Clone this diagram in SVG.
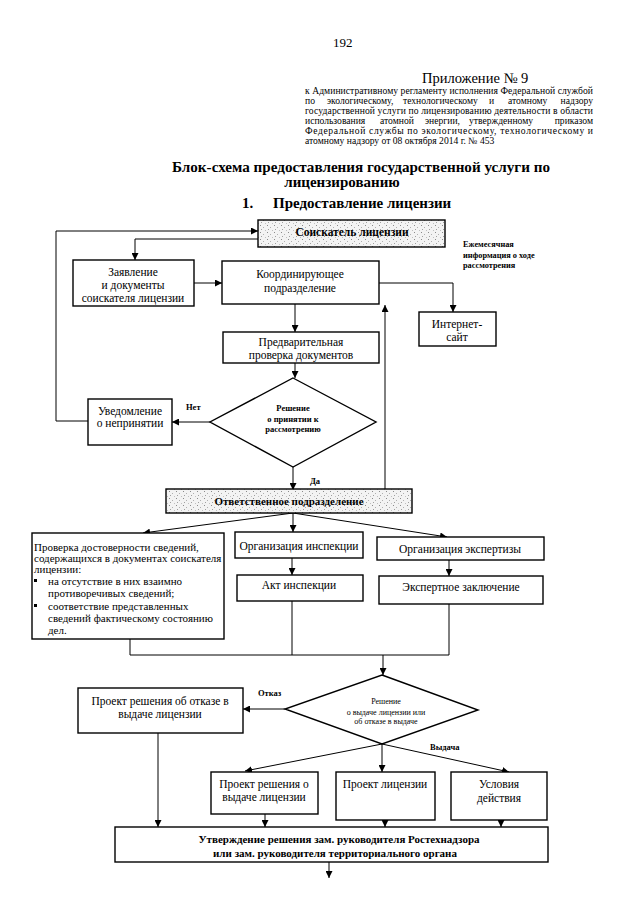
<svg xmlns="http://www.w3.org/2000/svg" width="640" height="905" viewBox="0 0 640 905">
<defs>
<marker id="ar" viewBox="0 0 10 10" refX="10" refY="5" markerWidth="7" markerHeight="7" markerUnits="userSpaceOnUse" orient="auto">
<path d="M0,0 L10,5 L0,10 z" fill="#000"/>
</marker>
<pattern id="stip" width="7" height="7" patternUnits="userSpaceOnUse">
<rect width="7" height="7" fill="#f3f3f3"/>
<rect x="1" y="1" width="1" height="1" fill="#8a8a8a"/>
<rect x="4" y="3" width="1" height="1" fill="#b0b0b0"/>
<rect x="2" y="5" width="1" height="1" fill="#a0a0a0"/>
<rect x="6" y="6" width="1" height="1" fill="#c0c0c0"/>
</pattern>
</defs>
<style>
.t{font-family:"Liberation Serif","Times New Roman",serif;fill:#000}
.b{font-weight:bold}
.box{fill:#fff;stroke:#000;stroke-width:1.4}
.sh{fill:url(#stip);stroke:#000;stroke-width:1.4}
.c{fill:none;stroke:#000;stroke-width:1}
.ca{fill:none;stroke:#000;stroke-width:1;marker-end:url(#ar)}
.m{text-anchor:middle}
</style>
<rect width="640" height="905" fill="#fff"/>

<g id="header">
<text class="t" x="333" y="47" font-size="13">192</text>
<text class="t" x="422" y="83" font-size="14.5">Приложение № 9</text>
<text class="t" x="305" y="94" font-size="9.6" textLength="288" lengthAdjust="spacing">к Административному регламенту исполнения Федеральной службой</text>
<text class="t" x="305" y="104" font-size="9.6">по</text>
<text class="t" x="327" y="104" font-size="9.6">экологическому,</text>
<text class="t" x="403" y="104" font-size="9.6">технологическому</text>
<text class="t" x="489" y="104" font-size="9.6">и</text>
<text class="t" x="508" y="104" font-size="9.6">атомному</text>
<text class="t" x="593" y="104" font-size="9.6" text-anchor="end">надзору</text>
<text class="t" x="305" y="114" font-size="9.6" textLength="288" lengthAdjust="spacing">государственной услуги по лицензированию деятельности в области</text>
<text class="t" x="305" y="124" font-size="9.6">использования</text>
<text class="t" x="380" y="124" font-size="9.6">атомной</text>
<text class="t" x="425" y="124" font-size="9.6">энергии,</text>
<text class="t" x="469" y="124" font-size="9.6">утвержденному</text>
<text class="t" x="593" y="124" font-size="9.6" text-anchor="end">приказом</text>
<text class="t" x="305" y="134" font-size="9.6" textLength="288" lengthAdjust="spacing">Федеральной службы по экологическому, технологическому и</text>
<text class="t" x="305" y="144" font-size="9.6">атомному надзору от 08 октября 2014 г.  № 453</text>
<text class="t b" x="172" y="172" font-size="15" textLength="378" lengthAdjust="spacingAndGlyphs">Блок-схема предоставления государственной услуги по</text>
<text class="t b m" x="342" y="187" font-size="15">лицензированию</text>
<text class="t b" x="242" y="208" font-size="15">1.</text>
<text class="t b" x="273" y="208" font-size="15">Предоставление лицензии</text>
</g>

<g id="connectors">
<polyline class="ca" points="88,421 56,421 56,231 258,231"/>
<polyline class="ca" points="258,239 135,239 135,260"/>
<line class="ca" x1="194" y1="283" x2="222" y2="283"/>
<polyline class="ca" points="379,283 453,283 453,312"/>
<line class="ca" x1="295" y1="304" x2="295" y2="332"/>
<line class="ca" x1="295" y1="363" x2="295" y2="378"/>
<line class="ca" x1="210" y1="422" x2="172" y2="422"/>
<line class="ca" x1="293" y1="467" x2="293" y2="490"/>
<line class="ca" x1="385" y1="490" x2="385" y2="305"/>
<line class="ca" x1="293" y1="513" x2="143" y2="533"/>
<line class="ca" x1="293" y1="513" x2="293" y2="532"/>
<line class="ca" x1="293" y1="513" x2="447" y2="537"/>
<line class="ca" x1="292" y1="558" x2="292" y2="575"/>
<line class="ca" x1="449" y1="560" x2="449" y2="576"/>
<polyline class="c" points="130,639 130,655 449,655 449,604"/>
<line class="c" x1="292" y1="601" x2="292" y2="655"/>
<line class="ca" x1="383" y1="655" x2="383" y2="675"/>
<line class="ca" x1="285" y1="709" x2="243" y2="709"/>
<line class="ca" x1="158" y1="733" x2="158" y2="827"/>
<line class="ca" x1="382" y1="744" x2="245" y2="771"/>
<line class="ca" x1="382" y1="744" x2="382" y2="772"/>
<line class="ca" x1="382" y1="744" x2="509" y2="772"/>
<line class="ca" x1="265" y1="814" x2="265" y2="827"/>
<line class="ca" x1="385" y1="820" x2="385" y2="827"/>
<line class="ca" x1="501" y1="820" x2="501" y2="827"/>
<line class="ca" x1="329" y1="862" x2="329" y2="878"/>
</g>

<g id="labels">
<text class="t b" x="463" y="247" font-size="8.3">Ежемесячная</text>
<text class="t b" x="463" y="258" font-size="8.3">информация о ходе</text>
<text class="t b" x="463" y="268" font-size="8.3">рассмотрения</text>
<text class="t b" x="186" y="410" font-size="8.5">Нет</text>
<text class="t b" x="310" y="484" font-size="8.5">Да</text>
<text class="t b" x="258" y="696" font-size="8.5">Отказ</text>
<text class="t b" x="430" y="750" font-size="8.5">Выдача</text>
</g>

<g id="n-soiskatel">
<rect class="sh" x="258" y="220" width="187" height="27"/>
<text class="t b m" x="352" y="236" font-size="11.5">Соискатель лицензии</text>
</g>
<g id="n-zayavlenie">
<rect class="box" x="73" y="260" width="121" height="46"/>
<text class="t m" x="133" y="276" font-size="11.5">Заявление</text>
<text class="t m" x="133" y="289" font-size="11.5">и документы</text>
<text class="t m" x="133" y="302" font-size="11.5">соискателя лицензии</text>
</g>
<g id="n-koord">
<rect class="box" x="222" y="261" width="157" height="43"/>
<text class="t m" x="300" y="278" font-size="11.5">Координирующее</text>
<text class="t m" x="300" y="292" font-size="11.5">подразделение</text>
</g>
<g id="n-internet">
<rect class="box" x="419" y="312" width="77" height="34"/>
<text class="t m" x="457" y="328" font-size="11.5">Интернет-</text>
<text class="t m" x="457" y="341" font-size="11.5">сайт</text>
</g>
<g id="n-predv">
<rect class="box" x="223" y="332" width="156" height="31"/>
<text class="t m" x="301" y="346" font-size="11.5">Предварительная</text>
<text class="t m" x="301" y="359" font-size="11.5">проверка документов</text>
</g>
<g id="n-reshenie1">
<polygon class="box" points="293,378 376,422 293,467 210,422"/>
<text class="t b m" x="293" y="411" font-size="8.5">Решение</text>
<text class="t b m" x="293" y="422" font-size="8.5">о принятии к</text>
<text class="t b m" x="293" y="432" font-size="8.5">рассмотрению</text>
</g>
<g id="n-uvedomlenie">
<rect class="box" x="88" y="399" width="84" height="46"/>
<text class="t m" x="130" y="415" font-size="11.5">Уведомление</text>
<text class="t m" x="130" y="427" font-size="11.5">о непринятии</text>
</g>
<g id="n-otvetstv">
<rect class="sh" x="166" y="489" width="246" height="24"/>
<text class="t b m" x="289" y="505" font-size="11">Ответственное подразделение</text>
</g>
<g id="n-proverka">
<rect class="box" x="32" y="533" width="192" height="106"/>
<text class="t" x="34" y="551" font-size="11">Проверка достоверности сведений,</text>
<text class="t" x="34" y="562" font-size="11">содержащихся в документах  соискателя</text>
<text class="t" x="34" y="573" font-size="11">лицензии:</text>
<rect x="34" y="579" width="3" height="3" fill="#000"/>
<text class="t" x="48" y="585" font-size="11">на отсутствие в них взаимно</text>
<text class="t" x="48" y="597" font-size="11">противоречивых сведений;</text>
<rect x="34" y="604" width="3" height="3" fill="#000"/>
<text class="t" x="48" y="610" font-size="11">соответствие представленных</text>
<text class="t" x="48" y="622" font-size="11">сведений фактическому состоянию</text>
<text class="t" x="48" y="634" font-size="11">дел.</text>
</g>
<g id="n-org-insp">
<rect class="box" x="235" y="532" width="128" height="26"/>
<text class="t m" x="299" y="550" font-size="11.5">Организация инспекции</text>
</g>
<g id="n-akt">
<rect class="box" x="237" y="575" width="126" height="26"/>
<text class="t m" x="299" y="589" font-size="11.5">Акт инспекции</text>
</g>
<g id="n-org-exp">
<rect class="box" x="377" y="537" width="167" height="23"/>
<text class="t m" x="460" y="553" font-size="11.5">Организация экспертизы</text>
</g>
<g id="n-exp-zakl">
<rect class="box" x="379" y="576" width="164" height="28"/>
<text class="t m" x="461" y="591" font-size="11.5">Экспертное заключение</text>
</g>
<g id="n-reshenie2">
<polygon class="box" points="382,675 478,710 382,744 285,709"/>
<text class="t m" x="386" y="704" font-size="8">Решение</text>
<text class="t m" x="386" y="715" font-size="8">о выдаче лицензии или</text>
<text class="t m" x="386" y="724" font-size="8">об отказе в выдаче</text>
</g>
<g id="n-otkaz">
<rect class="box" x="78" y="688" width="165" height="45"/>
<text class="t m" x="160" y="705" font-size="11.5">Проект решения об отказе в</text>
<text class="t m" x="160" y="718" font-size="11.5">выдаче лицензии</text>
</g>
<g id="n-vydacha">
<rect class="box" x="211" y="772" width="107" height="42"/>
<text class="t m" x="264" y="788" font-size="11.5">Проект решения о</text>
<text class="t m" x="264" y="801" font-size="11.5">выдаче лицензии</text>
</g>
<g id="n-proekt-lic">
<rect class="box" x="336" y="772" width="99" height="48"/>
<text class="t m" x="385" y="788" font-size="11.5">Проект лицензии</text>
</g>
<g id="n-usloviya">
<rect class="box" x="451" y="772" width="96" height="48"/>
<text class="t m" x="499" y="788" font-size="11.5">Условия</text>
<text class="t m" x="499" y="802" font-size="11.5">действия</text>
</g>
<g id="n-utverzhdenie">
<rect class="box" x="115" y="827" width="433" height="35"/>
<text class="t b m" x="339" y="843" font-size="11">Утверждение решения зам. руководителя Ростехнадзора</text>
<text class="t b m" x="335" y="857" font-size="11">или зам. руководителя территориального органа</text>
</g>
</svg>
